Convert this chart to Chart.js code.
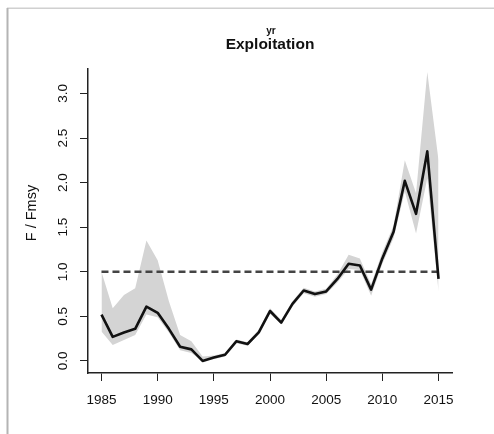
<!DOCTYPE html>
<html>
<head>
<meta charset="utf-8">
<title>Exploitation</title>
<style>
  html, body { margin: 0; padding: 0; background: #fff; }
  #wrap { width: 494px; height: 434px; position: relative; }
  canvas { display: block; }
</style>
<script src="https://cdn.jsdelivr.net/npm/chart.js@4/dist/chart.umd.min.js"></script>
</head>
<body>
<div id="wrap"><canvas id="chart" width="494" height="434"></canvas></div>
<script>
// Fishing mortality relative to Fmsy, with its uncertainty band
const years = [1985, 1986, 1987, 1988, 1989, 1990, 1991, 1992, 1993, 1994,
               1995, 1996, 1997, 1998, 1999, 2000, 2001, 2002, 2003, 2004,
               2005, 2006, 2007, 2008, 2009, 2010, 2011, 2012, 2013, 2014, 2015];
const fRatio = [0.52, 0.27, 0.32, 0.36, 0.61, 0.54, 0.36, 0.16, 0.13, 0.00,
                0.04, 0.07, 0.22, 0.19, 0.32, 0.56, 0.43, 0.64, 0.79, 0.75,
                0.78, 0.92, 1.09, 1.07, 0.80, 1.15, 1.45, 2.02, 1.65, 2.35, 0.92];
const lowerCI = [0.33, 0.18, 0.235, 0.29, 0.52, 0.49, 0.32, 0.12, 0.09, 0.00,
                 0.02, 0.05, 0.20, 0.17, 0.30, 0.53, 0.41, 0.61, 0.76, 0.72,
                 0.75, 0.88, 1.03, 1.02, 0.73, 1.09, 1.38, 1.90, 1.43, 2.05, 0.78];
const upperCI = [1.00, 0.59, 0.74, 0.815, 1.35, 1.13, 0.67, 0.29, 0.22, 0.05,
                 0.06, 0.09, 0.24, 0.21, 0.35, 0.59, 0.46, 0.67, 0.82, 0.78,
                 0.81, 0.97, 1.19, 1.15, 0.86, 1.22, 1.52, 2.25, 1.88, 3.24, 2.25];
const refYears = [1985, 2015];
const refLevel = [1.0, 1.0];
const xTicks = [1985, 1990, 1995, 2000, 2005, 2010, 2015];
const yTicks = [0, 0.5, 1.0, 1.5, 2.0, 2.5, 3.0];
const yTickLabels = ['0.0', '0.5', '1.0', '1.5', '2.0', '2.5', '3.0'];
const titleText = 'Exploitation';
const titleSup = 'yr';
const yTitle = 'F / Fmsy';

const toPoints = (xs, ys) => xs.map((x, i) => ({ x: x, y: ys[i] }));

const FONT = '"Liberation Sans", Arial, Helvetica, sans-serif';

const decorations = {
  id: 'decorations',
  beforeDraw(chart) {
    const ctx = chart.ctx;
    ctx.save();
    ctx.fillStyle = '#ffffff';
    ctx.fillRect(0, 0, chart.width, chart.height);
    // outer panel edges
    ctx.strokeStyle = '#d0d0d0';
    ctx.lineWidth = 1.5;
    ctx.beginPath();
    ctx.moveTo(7, 8.25);
    ctx.lineTo(chart.width, 8.25);
    ctx.stroke();
    ctx.strokeStyle = '#b4b4b4';
    ctx.lineWidth = 2;
    ctx.beginPath();
    ctx.moveTo(7.5, 8);
    ctx.lineTo(7.5, chart.height);
    ctx.stroke();
    ctx.restore();
  },
  afterDraw(chart) {
    const ctx = chart.ctx;
    const ys = chart.scales.y;
    const area = chart.chartArea;
    ctx.save();
    ctx.fillStyle = '#111';
    // rotated y tick labels
    ctx.font = '13.5px ' + FONT;
    ctx.textAlign = 'center';
    ctx.textBaseline = 'middle';
    yTicks.forEach((v, i) => {
      const py = ys.getPixelForValue(v);
      ctx.save();
      ctx.translate(63, py);
      ctx.rotate(-Math.PI / 2);
      ctx.fillText(yTickLabels[i], 0, 0);
      ctx.restore();
    });
    // y axis title
    ctx.font = '14.5px ' + FONT;
    ctx.save();
    ctx.translate(32, 213);
    ctx.rotate(-Math.PI / 2);
    ctx.fillText(yTitle, 0, 0);
    ctx.restore();
    // main title with small overlay text
    const cx = (area.left + area.right) / 2;
    ctx.textBaseline = 'alphabetic';
    ctx.font = 'bold 15.5px ' + FONT;
    ctx.fillText(titleText, cx, 48.5);
    ctx.font = 'bold 10px ' + FONT;
    ctx.fillText(titleSup, cx + 1, 33.5);
    ctx.restore();
  }
};

new Chart(document.getElementById('chart'), {
  type: 'line',
  data: {
    datasets: [
      {
        label: 'lower',
        data: toPoints(years, lowerCI),
        borderWidth: 0,
        borderColor: 'rgba(0,0,0,0)',
        pointRadius: 0,
        fill: false,
        order: 4
      },
      {
        label: 'upper',
        data: toPoints(years, upperCI),
        borderWidth: 0,
        borderColor: 'rgba(0,0,0,0)',
        backgroundColor: '#d4d4d4',
        pointRadius: 0,
        fill: '-1',
        order: 3
      },
      {
        label: 'Fmsy',
        data: toPoints(refYears, refLevel),
        borderColor: '#444',
        borderWidth: 2.5,
        borderDash: [7, 4],
        pointRadius: 0,
        fill: false,
        order: 2
      },
      {
        label: 'F / Fmsy',
        data: toPoints(years, fRatio),
        borderColor: '#111',
        borderWidth: 2.6,
        borderJoinStyle: 'round',
        pointRadius: 0,
        fill: false,
        order: 1
      }
    ]
  },
  options: {
    responsive: false,
    devicePixelRatio: 1,
    animation: false,
    parsing: true,
    layout: { padding: { left: 0, right: 42, top: 69, bottom: 0 } },
    plugins: {
      legend: { display: false },
      tooltip: { enabled: false },
      title: { display: false }
    },
    elements: { line: { tension: 0 } },
    scales: {
      x: {
        type: 'linear',
        min: 1983.8,
        max: 2016.2,
        afterBuildTicks(scale) { scale.ticks = xTicks.map(v => ({ value: v })); },
        afterFit(scale) { scale.height = 61; },
        grid: { drawOnChartArea: false, drawTicks: true, tickLength: 8, color: '#222', lineWidth: 1 },
        border: { display: true, color: '#222', width: 1.5 },
        ticks: {
          autoSkip: false,
          maxRotation: 0,
          minRotation: 0,
          padding: 11,
          color: '#111',
          font: { family: FONT, size: 13.5 },
          callback: v => String(v)
        }
      },
      y: {
        type: 'linear',
        min: -0.135,
        max: 3.274,
        afterBuildTicks(scale) { scale.ticks = yTicks.map(v => ({ value: v })); },
        afterFit(scale) { scale.width = 88; },
        grid: { drawOnChartArea: false, drawTicks: true, tickLength: 8, color: '#222', lineWidth: 1 },
        border: { display: true, color: '#222', width: 1.5 },
        ticks: { display: false }
      }
    }
  },
  plugins: [decorations]
});
</script>
</body>
</html>
